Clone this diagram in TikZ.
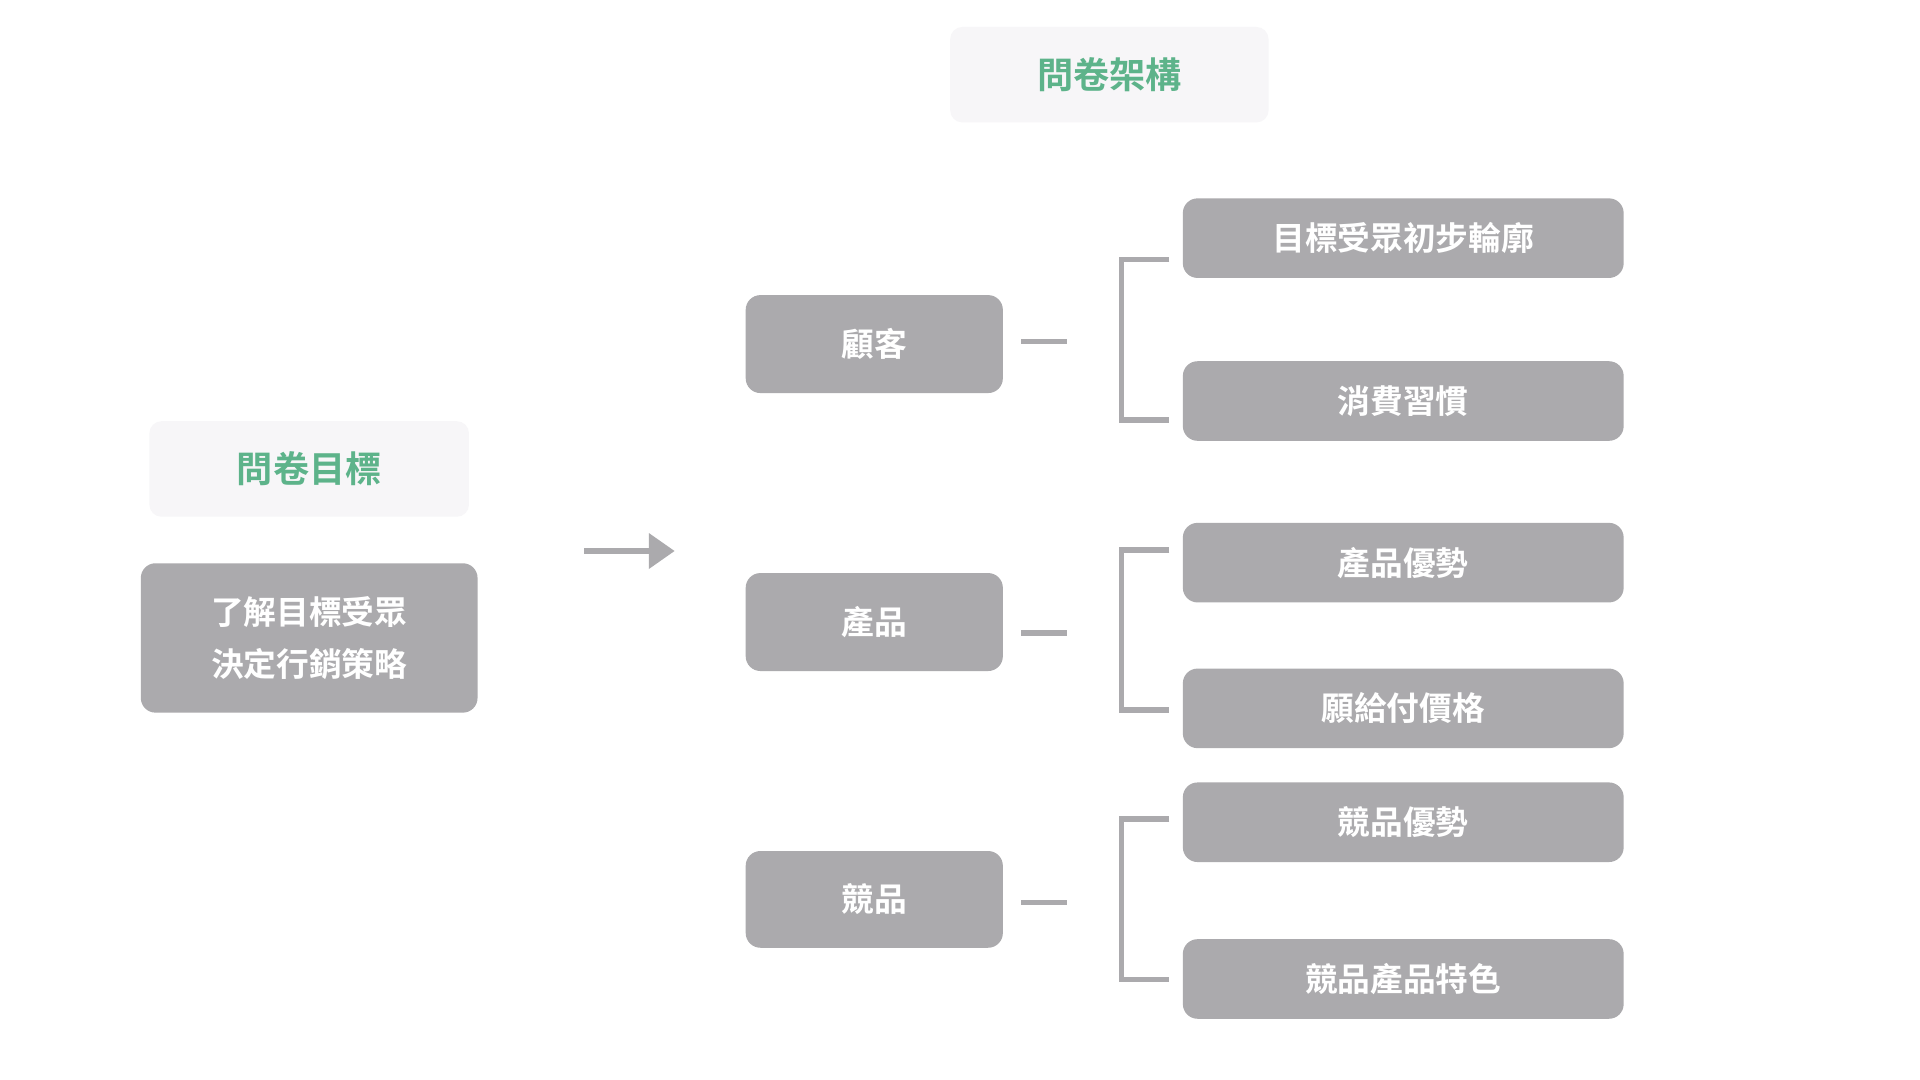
\documentclass[tikz,border=0pt]{standalone}
\usepackage{fontspec}
\newfontfamily\cjk{Noto Sans CJK TC}[BoldFont={Noto Sans CJK TC Bold}]
\usetikzlibrary{arrows.meta}
\definecolor{boxgray}{HTML}{ABAAAD}
\definecolor{lightbg}{HTML}{F7F6F8}
\definecolor{titlegreen}{HTML}{5DB38A}
\definecolor{linegray}{HTML}{ABAAAD}
\begin{document}
\begin{tikzpicture}[x=0.01cm,y=-0.01cm,
  gbox/.style={fill=boxgray,rounded corners=0.12cm,text=white,font=\cjk\bfseries\fontsize{7.6pt}{10pt}\selectfont,align=center},
  tbox/.style={fill=lightbg,rounded corners=0.1cm,text=titlegreen,font=\cjk\bfseries\fontsize{8.4pt}{10pt}\selectfont},
  ln/.style={draw=linegray,line width=1.3pt}]
\useasboundingbox[fill=white] (0,0) rectangle (1568,882);
\newcommand\bx[6]{\node[#1,minimum width=#4*0.01cm-#2*0.01cm,minimum height=#5*0.01cm-#3*0.01cm,inner sep=0pt] (#6) at ({(#2+#4)/2},{(#3+#5)/2})}
\bx{tbox}{776}{22}{1036}{100}{t1} {問卷架構};
\bx{tbox}{122}{344}{383}{422}{t2} {問卷目標};
\bx{gbox}{115}{460}{390}{582}{goal} {了解目標受眾\\[2pt]決定行銷策略};
\coordinate (a1) at (477,450); \coordinate (a2) at (551,450);
\draw[ln,-{Triangle[length=6pt,width=8pt]}] (a1) -- (a2);
\bx{gbox}{609}{241}{819}{321}{c1} {顧客};
\bx{gbox}{609}{468}{819}{548}{c2} {產品};
\bx{gbox}{609}{695}{819}{774}{c3} {競品};
\bx{gbox}{966}{162}{1326}{227}{r1} {目標受眾初步輪廓};
\bx{gbox}{966}{295}{1326}{360}{r2} {消費習慣};
\bx{gbox}{966}{427}{1326}{492}{r3} {產品優勢};
\bx{gbox}{966}{546}{1326}{611}{r4} {願給付價格};
\bx{gbox}{966}{639}{1326}{704}{r5} {競品優勢};
\bx{gbox}{966}{767}{1326}{832}{r6} {競品產品特色};
\foreach \y/\ya/\yb/\i in {279/212/343/1,517/449/580/2,737/669/800/3}{
  \coordinate (d\i a) at (834,\y); \coordinate (d\i b) at (871,\y);
  \draw[ln] (d\i a) -- (d\i b);
  \coordinate (b\i a) at (955,\ya); \coordinate (b\i b) at (955,\yb);
  \draw[ln] (b\i a) -- (916,\ya) -- (916,\yb) -- (b\i b);
}
\end{tikzpicture}
\end{document}
